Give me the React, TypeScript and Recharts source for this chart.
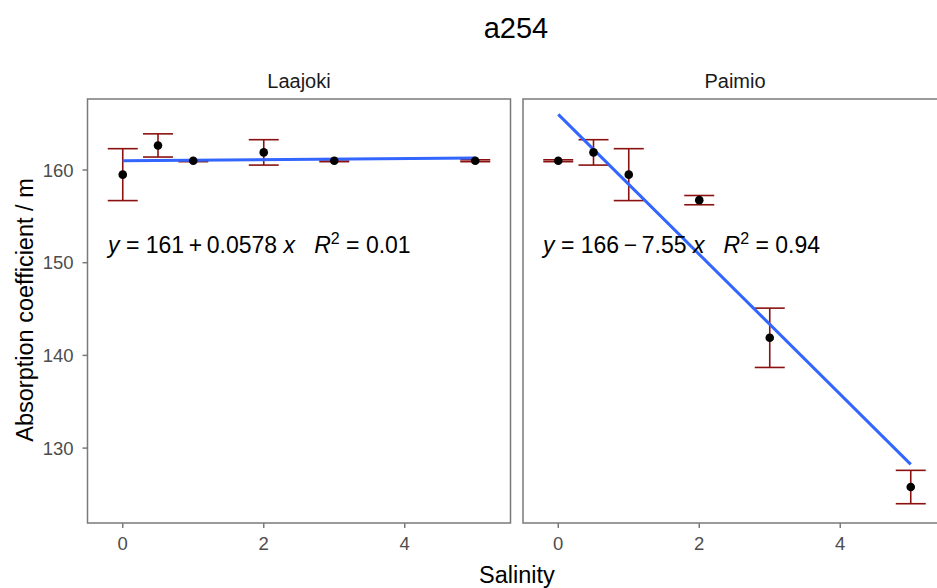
import React from "react";
import {
  ComposedChart, Scatter, Line, XAxis, YAxis, ErrorBar, ReferenceArea,
} from "recharts";

// Salinity levels sampled at each site
const salinity = [0, 0.5, 1, 2, 3, 5];

// mean a254 and its error (±) per salinity level
const laajokiMean = [159.5, 162.65, 161.0, 161.9, 161.0, 161.0];
const laajokiErr = [2.8, 1.25, 0.1, 1.37, 0.1, 0.1];
const paimioMean = [161.0, 161.9, 159.5, 156.75, 141.9, 125.8];
const paimioErr = [0.1, 1.37, 2.8, 0.5, 3.2, 1.8];

// linear fit: y = intercept + slope * x
const sites = ["Laajoki", "Paimio"];
const intercepts = [161, 166];
const slopes = [0.0578, -7.55];
const rSquared = ["0.01", "0.94"];

const xTicks = [0, 2, 4];
const yTicks = [130, 140, 150, 160];
const xDomain: [number, number] = [-0.5, 5.5];
const yDomain: [number, number] = [121.92, 167.66];

const FONT = "'Liberation Sans', Arial, Helvetica, sans-serif";
const BORDER = "#7a7a7a";
const TICK_TEXT = "#4d4d4d";

const series = [laajokiMean, paimioMean].map((means, i) =>
  salinity.map((x, j) => ({ x, y: means[j], err: [laajokiErr, paimioErr][i][j] }))
);

const fitLine = (i: number) =>
  [0, 5].map((x) => ({ x, y: intercepts[i] + slopes[i] * x }));

const Dot = (p: any) => <circle cx={p.cx} cy={p.cy} r={4.3} fill="#000" />;

function Panel({ idx, left, width, margin }: { idx: number; left: number; width: number; margin: any }) {
  const first = idx === 0;
  return (
    <div style={{ position: "absolute", left, top: 0 }}>
      <ComposedChart width={width} height={560} margin={margin}>
        <XAxis
          dataKey="x"
          type="number"
          domain={xDomain}
          ticks={xTicks}
          allowDataOverflow
          axisLine={false}
          tickSize={5}
          tickMargin={9}
          tickLine={{ stroke: BORDER, strokeWidth: 1.5 }}
          tick={{ fill: TICK_TEXT, fontSize: 18.5, fontFamily: FONT }}
          height={30}
        />
        <YAxis
          dataKey="y"
          type="number"
          domain={yDomain}
          ticks={yTicks}
          allowDataOverflow
          hide={!first}
          width={87.5}
          axisLine={false}
          tickSize={5}
          tickMargin={9}
          tickLine={{ stroke: BORDER, strokeWidth: 1.5 }}
          tick={{ fill: TICK_TEXT, fontSize: 18.5, fontFamily: FONT }}
        />
        <ReferenceArea
          x1={xDomain[0]} x2={xDomain[1]} y1={yDomain[0]} y2={yDomain[1]}
          fill="none" fillOpacity={0} stroke={BORDER} strokeWidth={1.5}
          ifOverflow="visible"
        />
        <Scatter data={series[idx]} dataKey="y" shape={Dot} isAnimationActive={false}>
          <ErrorBar
            dataKey="err"
            direction="y"
            width={15}
            stroke="#8b1111"
            strokeWidth={1.6}
            isAnimationActive={false}
          />
        </Scatter>
        <Line
          data={fitLine(idx)}
          dataKey="y"
          stroke="#3366ff"
          strokeWidth={3}
          dot={false}
          activeDot={false}
          isAnimationActive={false}
        />
      </ComposedChart>
    </div>
  );
}

function Equation({ idx, x, y }: { idx: number; x: number; y: number }) {
  const b = slopes[idx];
  const sign = b < 0 ? "\u2212" : "+";
  return (
    <text x={x} y={y} fontSize={23} fontFamily={FONT} fill="#000" style={{ whiteSpace: "pre" }}>
      <tspan fontStyle="italic">y</tspan>
      <tspan>{` = ${intercepts[idx]}\u2009${sign}\u2009${Math.abs(b)} `}</tspan>
      <tspan fontStyle="italic">x</tspan>
      <tspan>{"   "}</tspan>
      <tspan fontStyle="italic">R</tspan>
      <tspan dy={-9} fontSize={16}>2</tspan>
      <tspan dy={9}>{` = ${rSquared[idx]}`}</tspan>
    </text>
  );
}

export default function App() {
  return (
    <div
      style={{
        position: "absolute", left: 0, top: 0, width: 937, height: 588,
        overflow: "hidden", background: "#fff",
      }}
    >
      <Panel idx={0} left={0} width={519} margin={{ top: 99, right: 8.5, bottom: 7, left: 0 }} />
      <Panel idx={1} left={513.3} width={443} margin={{ top: 99, right: 10, bottom: 7, left: 10 }} />
      <svg
        width={937}
        height={588}
        style={{ position: "absolute", left: 0, top: 0, pointerEvents: "none" }}
      >
        <text x={516} y={38} textAnchor="middle" fontSize={29} fontFamily={FONT} fill="#000">
          a254
        </text>
        <text x={299} y={88} textAnchor="middle" fontSize={20} fontFamily={FONT} fill="#1a1a1a">
          {sites[0]}
        </text>
        <text x={735} y={88} textAnchor="middle" fontSize={20} fontFamily={FONT} fill="#1a1a1a">
          {sites[1]}
        </text>
        <text
          x={33} y={310} textAnchor="middle" fontSize={23.5} fontFamily={FONT} fill="#000"
          transform="rotate(-90, 33, 310)"
        >
          Absorption coefficient / m
        </text>
        <text x={517} y={583} textAnchor="middle" fontSize={23.5} fontFamily={FONT} fill="#000">
          Salinity
        </text>
        <Equation idx={0} x={108} y={253} />
        <Equation idx={1} x={543} y={253} />
      </svg>
    </div>
  );
}
